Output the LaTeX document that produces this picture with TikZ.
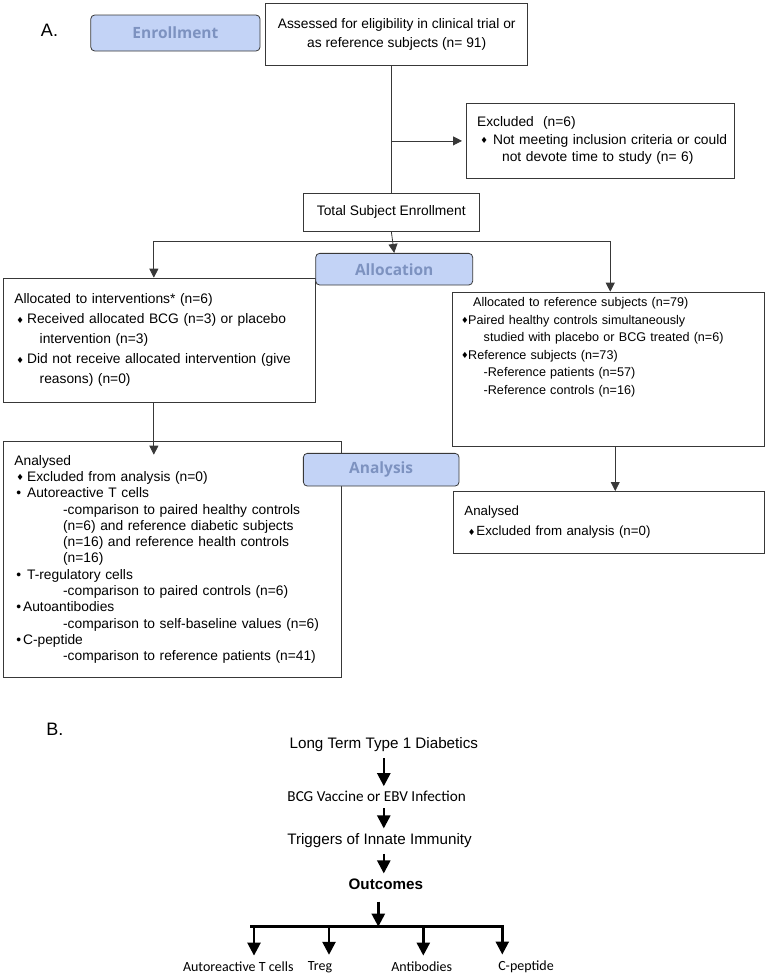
\documentclass[tikz,border=0pt]{standalone}
\usepackage{fontspec}
\setmainfont{Liberation Sans}
\newfontfamily\calibfont{Carlito}
\newfontfamily\stagefont{Open Sans}
\newfontfamily\symfont{DejaVu Sans}
\usetikzlibrary{arrows.meta, positioning}

\definecolor{linegray}{RGB}{56,56,56}
\definecolor{stagefill}{RGB}{195,211,246}
\definecolor{stagetext}{RGB}{125,146,192}

\newcommand\bdia{\raisebox{0.6pt}{\symfont\fontsize{8.5}{8.5}\selectfont ♦}}
\newcommand\markat[3]{\hspace*{#1}\rlap{#2}\hspace*{#3}}

\begin{document}
\begin{tikzpicture}[x=1pt, y=-1pt,
      panel/.style = {draw=linegray, line width=0.8pt, anchor=north west,
                      inner xsep=10.7pt, inner ysep=0pt, align=left,
                      font=\fontsize{13.8}{17.5}\selectfont},
      plain box/.style = {draw=linegray, line width=0.8pt, inner sep=0pt,
                          align=center, font=\fontsize{13.8}{19}\selectfont},
      stage/.style = {draw=linegray, line width=0.8pt, fill=stagefill,
                      rounded corners=4pt, inner sep=0pt, text=stagetext,
                      font=\stagefont\bfseries\fontsize{15.5}{17}\selectfont},
      link/.style = {draw=linegray, line width=0.8pt},
      flow/.style = {link, -{Triangle[length=9pt, width=9pt]}},
      part/.style = {font=\fontsize{18}{20}\selectfont},
      chain text/.style = {inner sep=2pt, font=\fontsize{15.2}{17}\selectfont},
      chain calib/.style = {chain text, font=\calibfont\fontsize{15.2}{17}\selectfont},
      outcome/.style = {inner sep=2pt, font=\calibfont\fontsize{14}{16}\selectfont},
      chain/.style = {line width=2.5pt, -{Triangle[length=13pt, width=13pt]}},
    ]
    \useasboundingbox (0,0) rectangle (768,977);

    %% Part A: trial flow
    \node [part] (partA) at (49.5,30) {A.};

    \node [plain box, minimum width=262pt, minimum height=61.7pt] (assess)
      at (396.7,34.2)
      {Assessed for eligibility in clinical trial or\\
       as reference subjects (n= 91)};

    \node [panel, text width=246.6pt, minimum height=74.4pt] (excl)
      at (466,103.3)
      {Excluded\ \ (n=6)\\
       \markat{3.3pt}{\bdia}{12.7pt}\mbox{Not meeting inclusion criteria or could}\\
       \hspace*{25pt}\mbox{not devote time to study (n= 6)}};

    \node [plain box, minimum width=176pt, minimum height=37.7pt] (total)
      at (391.3,212.2) {Total Subject Enrollment};

    \node [panel, text width=290.3pt, minimum height=124pt,
           font=\fontsize{13.8}{20}\selectfont] (interv) at (3.3,277.7)
      {Allocated to interventions* (n=6)\\
       \markat{2pt}{\bdia}{10.7pt}\mbox{Received allocated BCG (n=3) or placebo}\\
       \hspace*{25.3pt}intervention (n=3)\\
       \markat{2pt}{\bdia}{10.7pt}\mbox{Did not receive allocated intervention (give}\\
       \hspace*{25.3pt}reasons) (n=0)};

    \node [panel, inner xsep=10.6pt, text width=291.1pt, minimum height=154pt,
           font=\fontsize{12.6}{17.5}\selectfont] (refbox) at (451.7,291.7)
      {\hspace*{10.4pt}Allocated to reference subjects (n=79)\\
       \markat{-1.5pt}{\bdia}{7pt}\mbox{Paired healthy controls simultaneously}\\
       \hspace*{21pt}\mbox{studied with placebo or BCG treated (n=6)}\\
       \markat{-1.5pt}{\bdia}{7pt}Reference subjects (n=73)\\
       \hspace*{21pt}-Reference patients (n=57)\\
       \hspace*{21pt}-Reference controls (n=16)\\[29pt]\mbox{}};

    \node [panel, text width=316pt, minimum height=236.6pt,
           font=\fontsize{13.8}{16.3}\selectfont] (analysed) at (3.3,440.7)
      {Analysed\\
       \markat{2pt}{\bdia}{10.7pt}Excluded from analysis (n=0)\\
       \markat{2pt}{\textbullet}{10.7pt}Autoreactive T cells\\
       \hspace*{48.7pt}\mbox{-comparison to paired healthy controls}\\
       \hspace*{48.7pt}\mbox{(n=6) and reference diabetic subjects}\\
       \hspace*{48.7pt}\mbox{(n=16) and reference health controls}\\
       \hspace*{48.7pt}(n=16)\\
       \markat{2pt}{\textbullet}{10.7pt}T-regulatory cells\\
       \hspace*{48.7pt}\mbox{-comparison to paired controls (n=6)}\\
       \markat{2pt}{\textbullet}{6.7pt}Autoantibodies\\
       \hspace*{48.7pt}\mbox{-comparison to self-baseline values (n=6)}\\
       \markat{2pt}{\textbullet}{6.7pt}C-peptide\\
       \hspace*{48.7pt}\mbox{-comparison to reference patients (n=41)}};

    \node [panel, text width=289.3pt, minimum height=61.7pt,
           font=\fontsize{13.3}{20}\selectfont] (refan) at (453.3,491)
      {Analysed\\
       \markat{3.5pt}{\bdia}{8.5pt}Excluded from analysis (n=0)};

    %% Stage labels sit on top of the boxes
    \node [stage, minimum width=169.3pt, minimum height=36pt] (enroll)
      at (175.4,33) {Enrollment};
    \node [stage, minimum width=157pt, minimum height=31.7pt] (alloc)
      at (394.2,269.2) {Allocation};
    \node [stage, minimum width=155.7pt, minimum height=32.7pt] (analysis)
      at (381.2,469.7) {Analysis};

    %% Connectors
    \draw [link] (assess.south -| total.north) -- (total.north);
    \draw [flow, shorten >= 4pt] (total.north |- excl.west) -- (excl.west);
    \coordinate (split) at (391.3,241);
    \draw [flow] (total.south) -- (alloc.north);
    \draw [flow] (split) -| ([xshift=-5.7pt] interv.north);
    \draw [flow] (split) -| ([xshift=2pt] refbox.north);
    \draw [flow, shorten >= -14pt] ([xshift=-5.7pt] interv.south)
      -- ([xshift=-5.7pt] interv.south |- analysed.north);
    \draw [flow] ([xshift=7pt] refbox.south)
      -- ([xshift=7pt] refbox.south |- refan.north);

    %% Part B: outcome chain
    \node [part] (partB) at (54.8,729.3) {B.};
    \node [chain text] (diab) at (383.8,745) {Long Term Type 1 Diabetics};
    \node [chain calib] (bcg) at (376.7,796.7) {BCG Vaccine or EBV Infection};
    \node [chain text] (trig) at (379.5,840.7) {Triggers of Innate Immunity};
    \node [chain text, font=\bfseries\fontsize{15.2}{17}\selectfont] (outc)
      at (385.8,884) {Outcomes};

    \draw [chain, shorten <= 4pt, shorten >= 3pt] (diab.south) -- (diab.south |- bcg.north);
    \draw [chain, shorten <= 4pt, shorten >= 3pt] (diab.south |- bcg.south) -- (diab.south |- trig.north);
    \draw [chain, shorten <= 4pt, shorten >= 3pt] (diab.south |- trig.south) -- (diab.south |- outc.north);

    \coordinate (hub) at (378.3,926.7);
    \draw [chain, shorten <= 10pt] (hub |- outc.south) -- (hub);

    \node [outcome] (autoT) at (238.3,966.7) {Autoreactive T cells};
    \node [outcome] (treg) at (320,966.7) {Treg};
    \node [outcome] (abod) at (421.7,966.7) {Antibodies};
    \node [outcome] (cpep) at (526,966.7) {C-peptide};

    \foreach \x/\n in {254/1, 329/2, 423.3/3, 502.3/4}{%
      \coordinate (br\n) at (\x,926.7);
    }
    \draw [line width=2.5pt] ([xshift=-4pt] br1) -- ([xshift=1.2pt] br4);
    \foreach \n/\t in {1/autoT, 2/treg, 3/abod, 4/cpep}{%
      \draw [chain, shorten >= 4pt] (br\n) -- (br\n |- \t.north);
    }
\end{tikzpicture}
\end{document}
